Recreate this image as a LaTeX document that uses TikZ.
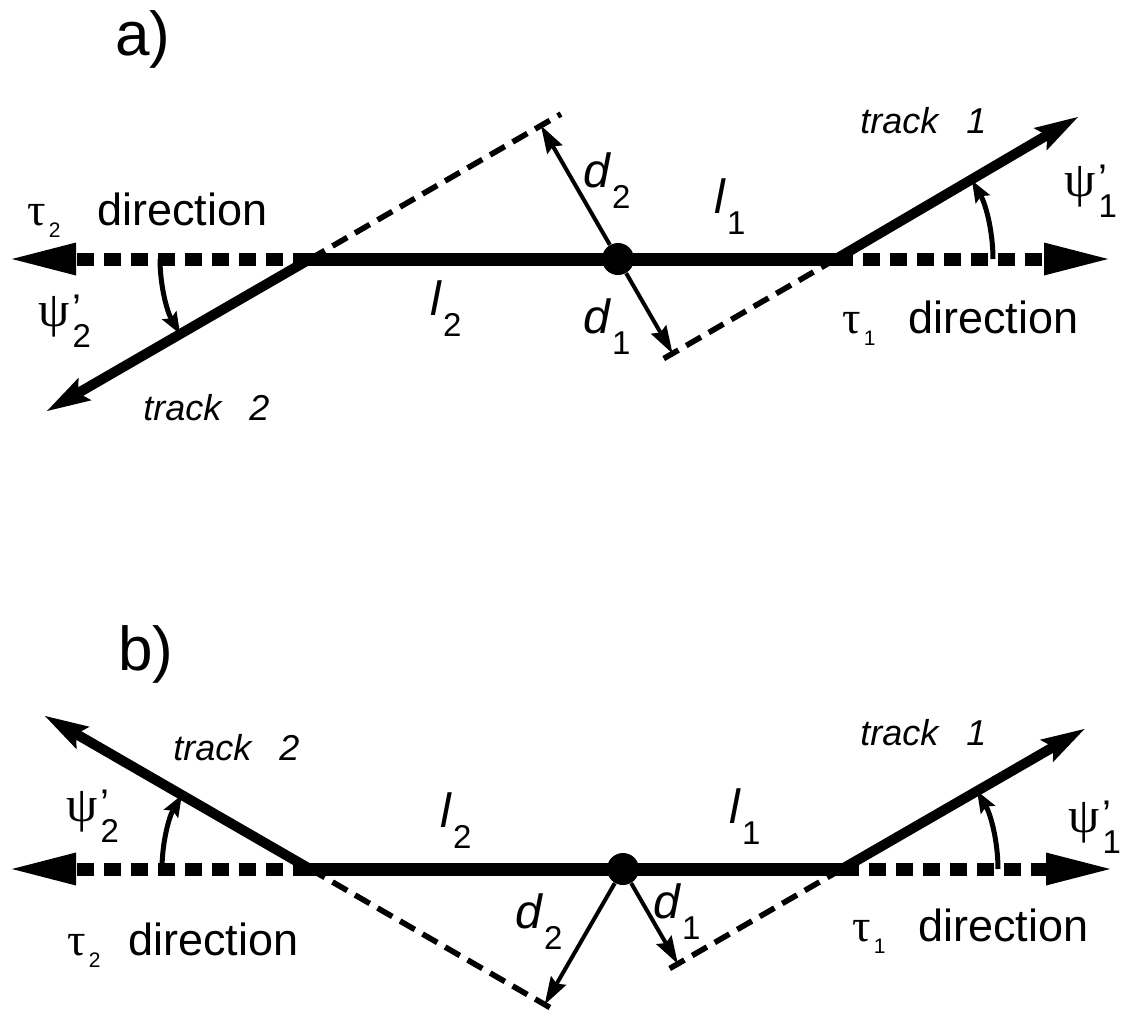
\documentclass[tikz,border=0pt]{standalone}
\usepackage{fontspec}
\setmainfont{Liberation Sans}
\newfontfamily\grk{Liberation Serif}
\usetikzlibrary{arrows.meta}
\newcommand\myfs[1]{\fontsize{#1}{#1}\selectfont}
\newcommand\sublab[2]{{\myfs{24}\itshape #1}\kern1pt\raisebox{-10.5pt}{\myfs{16.5}#2}}
\newcommand\psilab[1]{{\myfs{25}\grk ψ}\kern1.5pt\rlap{\raisebox{2pt}{\myfs{20}'}}\raisebox{-10.5pt}{\myfs{16.5}#1}}
\newcommand\taulab[2]{\makebox[#1][l]{{\myfs{23}\grk τ}\kern1.5pt\raisebox{-6pt}{\myfs{10.5}#2}}{\myfs{22.5}direction}}
\newcommand\tracklab[1]{{\myfs{18}\itshape track\hspace{14pt}#1}}
\tikzset{
  mainline/.style={line width=6.5pt},
  tauarrow/.style={line width=6.5pt, dash pattern=on 8.5pt off 5pt,
    -{Triangle[length=32pt,width=16.5pt,line width=0pt]}},
  trackarrow/.style={line width=5pt, -{Stealth[length=22pt,width=13pt,inset=4pt,line width=0pt]}},
  extline/.style={line width=2.8pt, dash pattern=on 8.5pt off 4.5pt},
  darrow/.style={line width=2pt, -{Stealth[length=14pt,width=9pt,inset=2pt,line width=0pt]}},
  angarrow/.style={line width=2.5pt, -{Stealth[length=11pt,width=8.5pt,inset=2pt,line width=0pt]}},
  vertexdot/.style={circle, fill, inner sep=0pt, minimum size=16pt},
  lab/.style={inner sep=0pt, anchor=base west}
}
\begin{document}
\begin{tikzpicture}[x=0.5pt,y=0.5pt]
\fill[white] (0,0) rectangle (1121,-1013);
\useasboundingbox (0,0) rectangle (1121,-1013);
% ---------- panel a ----------
\coordinate (A2) at (310,-259);
\coordinate (A1) at (836,-259);
\node[vertexdot] (V) at (618,-259) {};
\coordinate (T2a) at (47,-411);
\coordinate (T1a) at (1078,-117);
\coordinate (LTa) at (12,-259);
\coordinate (RTa) at (1108,-259);
\coordinate (E2a) at (561,-114);
\coordinate (E1a) at (663,-359);
\coordinate (F2a) at (541,-125.6);
\coordinate (F1a) at (672.5,-353.4);
\draw[extline] (A2) -- (E2a);
\draw[extline] (A1) -- (E1a);
\draw[mainline] (A2) -- (A1);
\draw[tauarrow] (A2) -- (LTa);
\draw[tauarrow] (A1) -- (RTa);
\draw[trackarrow] (A2) -- (T2a);
\draw[trackarrow] (A1) -- (T1a);
\draw[darrow] (V) -- (F2a);
\draw[darrow] (V) -- (F1a);
\draw[angarrow] (A2) ++(180:150) arc[start angle=180,end angle=210,radius=75pt];
\draw[angarrow] (A1) ++(0:157) arc[start angle=0,end angle=30,radius=78.5pt];
\node[lab] (la) at (115,-55) {\myfs{31}a)};
\node[lab] (tau2a) at (27,-225) {\taulab{35pt}{2}};
\node[lab] (psi2a) at (38,-326) {\psilab{2}};
\node[lab] (tr2a) at (143,-420) {\tracklab{2}};
\node[lab] (l2a) at (430,-315) {\sublab{l}{2}};
\node[lab] (l1a) at (714,-213) {\sublab{l}{1}};
\node[lab] (d2a) at (583,-187) {\sublab{d}{2}};
\node[lab] (d1a) at (583,-333) {\sublab{d}{1}};
\node[lab] (tr1a) at (860,-133) {\tracklab{1}};
\node[lab] (psi1a) at (1064,-196) {\psilab{1}};
\node[lab] (tau1a) at (842,-333) {\taulab{33pt}{1}};
% ---------- panel b ----------
\coordinate (B2) at (310,-869);
\coordinate (B1) at (842,-869);
\node[vertexdot] (W) at (623,-869) {};
\coordinate (T2b) at (45,-716);
\coordinate (T1b) at (1084.5,-729);
\coordinate (LTb) at (12,-869);
\coordinate (RTb) at (1110,-869);
\coordinate (E2b) at (556.8,-1011.5);
\coordinate (E1b) at (664.5,-971.5);
\coordinate (F2b) at (544.7,-1004.5);
\coordinate (F1b) at (677.8,-963.8);
\draw[extline] (B2) -- (E2b);
\draw[extline] (B1) -- (E1b);
\draw[mainline] (B2) -- (B1);
\draw[tauarrow] (B2) -- (LTb);
\draw[tauarrow] (B1) -- (RTb);
\draw[trackarrow] (B2) -- (T2b);
\draw[trackarrow] (B1) -- (T1b);
\draw[darrow] (W) -- (F2b);
\draw[darrow] (W) -- (F1b);
\draw[angarrow] (B2) ++(180:148) arc[start angle=180,end angle=150,radius=74pt];
\draw[angarrow] (B1) ++(0:156) arc[start angle=0,end angle=30,radius=78pt];
\node[lab] (lb) at (118,-670) {\myfs{31}b)};
\node[lab] (tr2b) at (173,-760) {\tracklab{2}};
\node[lab] (psi2b) at (66,-821) {\psilab{2}};
\node[lab] (l2b) at (440,-827) {\sublab{l}{2}};
\node[lab] (l1b) at (729,-823) {\sublab{l}{1}};
\node[lab] (d2b) at (515,-928) {\sublab{d}{2}};
\node[lab] (d1b) at (653,-918) {\sublab{d}{1}};
\node[lab] (tr1b) at (860,-745) {\tracklab{1}};
\node[lab] (psi1b) at (1068,-832) {\psilab{1}};
\node[lab] (tau1b) at (852,-941) {\taulab{33pt}{1}};
\node[lab] (tau2b) at (67,-955) {\taulab{30.5pt}{2}};
\end{tikzpicture}
\end{document}
